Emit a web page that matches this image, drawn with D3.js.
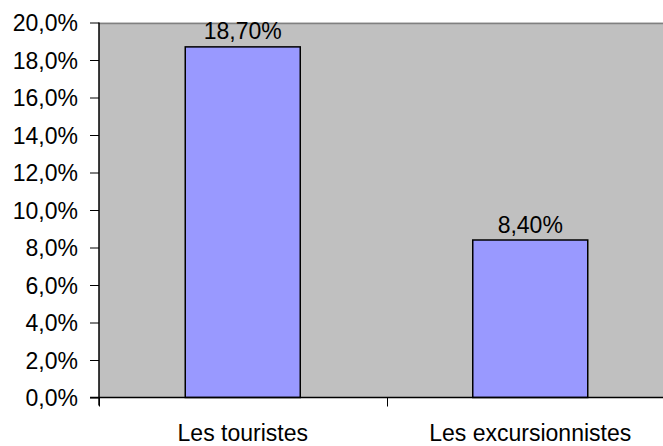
<!DOCTYPE html>
<html>
<head>
<meta charset="utf-8">
<script src="https://cdn.jsdelivr.net/npm/d3@7"></script>
<style>
  html, body { margin: 0; padding: 0; background: #ffffff; }
  svg { display: block; }
  text { font-family: "Liberation Sans", Arial, sans-serif; fill: #000; }
</style>
</head>
<body>
<svg id="chart" width="663" height="446"></svg>
<script>
const categories = ["Les touristes", "Les excursionnistes"];
const values = [0.187, 0.084];
const yTicks = [0, 0.02, 0.04, 0.06, 0.08, 0.10, 0.12, 0.14, 0.16, 0.18, 0.20];

const W = 663, H = 446;
const plot = { left: 99, right: 674, top: 22.5, bottom: 397.5 };
const FS = 23;

const locale = d3.formatLocale({ decimal: ",", thousands: " ", grouping: [3], currency: ["", "€"] });
const fmtTick = locale.format(".1%");
const fmtLabel = locale.format(".2%");

const svg = d3.select("#chart");

const x = d3.scaleBand().domain(categories).range([plot.left, plot.right])
  .paddingInner(0.6).paddingOuter(0.3);
const xb = d3.scaleBand().domain(categories).range([plot.left, plot.right]).padding(0);
const y = d3.scaleLinear().domain([0, 0.2]).range([plot.bottom, plot.top]);

// plot background
svg.append("rect")
  .attr("x", plot.left).attr("y", plot.top)
  .attr("width", plot.right - plot.left).attr("height", plot.bottom - plot.top)
  .attr("fill", "#c0c0c0");
// top border
svg.append("line")
  .attr("x1", plot.left).attr("x2", plot.right)
  .attr("y1", Math.round(y(0.2)) + 0.5).attr("y2", Math.round(y(0.2)) + 0.5)
  .attr("stroke", "#808080").attr("stroke-width", 1.5);

// bars
svg.selectAll("rect.bar").data(values).enter().append("rect")
  .attr("class", "bar")
  .attr("x", (d, i) => x(categories[i]))
  .attr("y", d => y(d))
  .attr("width", x.bandwidth())
  .attr("height", d => y(0) - y(d))
  .attr("fill", "#9999ff")
  .attr("stroke", "#000")
  .attr("stroke-width", 1.5);

// bar labels
svg.selectAll("text.blab").data(values).enter().append("text")
  .attr("class", "blab")
  .attr("x", (d, i) => x(categories[i]) + x.bandwidth() / 2)
  .attr("y", d => y(d) - 7.5)
  .attr("text-anchor", "middle")
  .attr("font-size", FS)
  .text(d => fmtLabel(d));

// y axis
const yAxis = d3.axisLeft(y).tickValues(yTicks).tickFormat(fmtTick).tickSize(9).tickPadding(12);
const gy = svg.append("g").attr("transform", `translate(${plot.left},0)`).call(yAxis);
gy.select(".domain").remove();
gy.selectAll(".tick line").attr("stroke", "#000").attr("stroke-width", 1);
gy.selectAll(".tick text").attr("font-size", FS).attr("font-family", "Liberation Sans, Arial, sans-serif").attr("dy", "0.36em").attr("fill", "#000");
svg.append("line")
  .attr("x1", plot.left).attr("x2", plot.left)
  .attr("y1", plot.top).attr("y2", plot.bottom + 8)
  .attr("stroke", "#000").attr("stroke-width", 1.5);

// x axis
svg.append("line")
  .attr("x1", plot.left - 9).attr("x2", plot.right)
  .attr("y1", plot.bottom).attr("y2", plot.bottom)
  .attr("stroke", "#000").attr("stroke-width", 1.5);
const boundaries = categories.map(c => xb(c)).concat([xb(categories[categories.length - 1]) + xb.bandwidth()]);
svg.selectAll("line.xtick").data(boundaries).enter().append("line")
  .attr("class", "xtick")
  .attr("x1", d => Math.round(d) + 0.5).attr("x2", d => Math.round(d) + 0.5)
  .attr("y1", plot.bottom).attr("y2", plot.bottom + 9)
  .attr("stroke", "#000").attr("stroke-width", 1);
svg.selectAll("text.xlab").data(categories).enter().append("text")
  .attr("class", "xlab")
  .attr("x", d => xb(d) + xb.bandwidth() / 2)
  .attr("y", 440.5)
  .attr("text-anchor", "middle")
  .attr("font-size", FS)
  .text(d => d);
</script>
</body>
</html>
